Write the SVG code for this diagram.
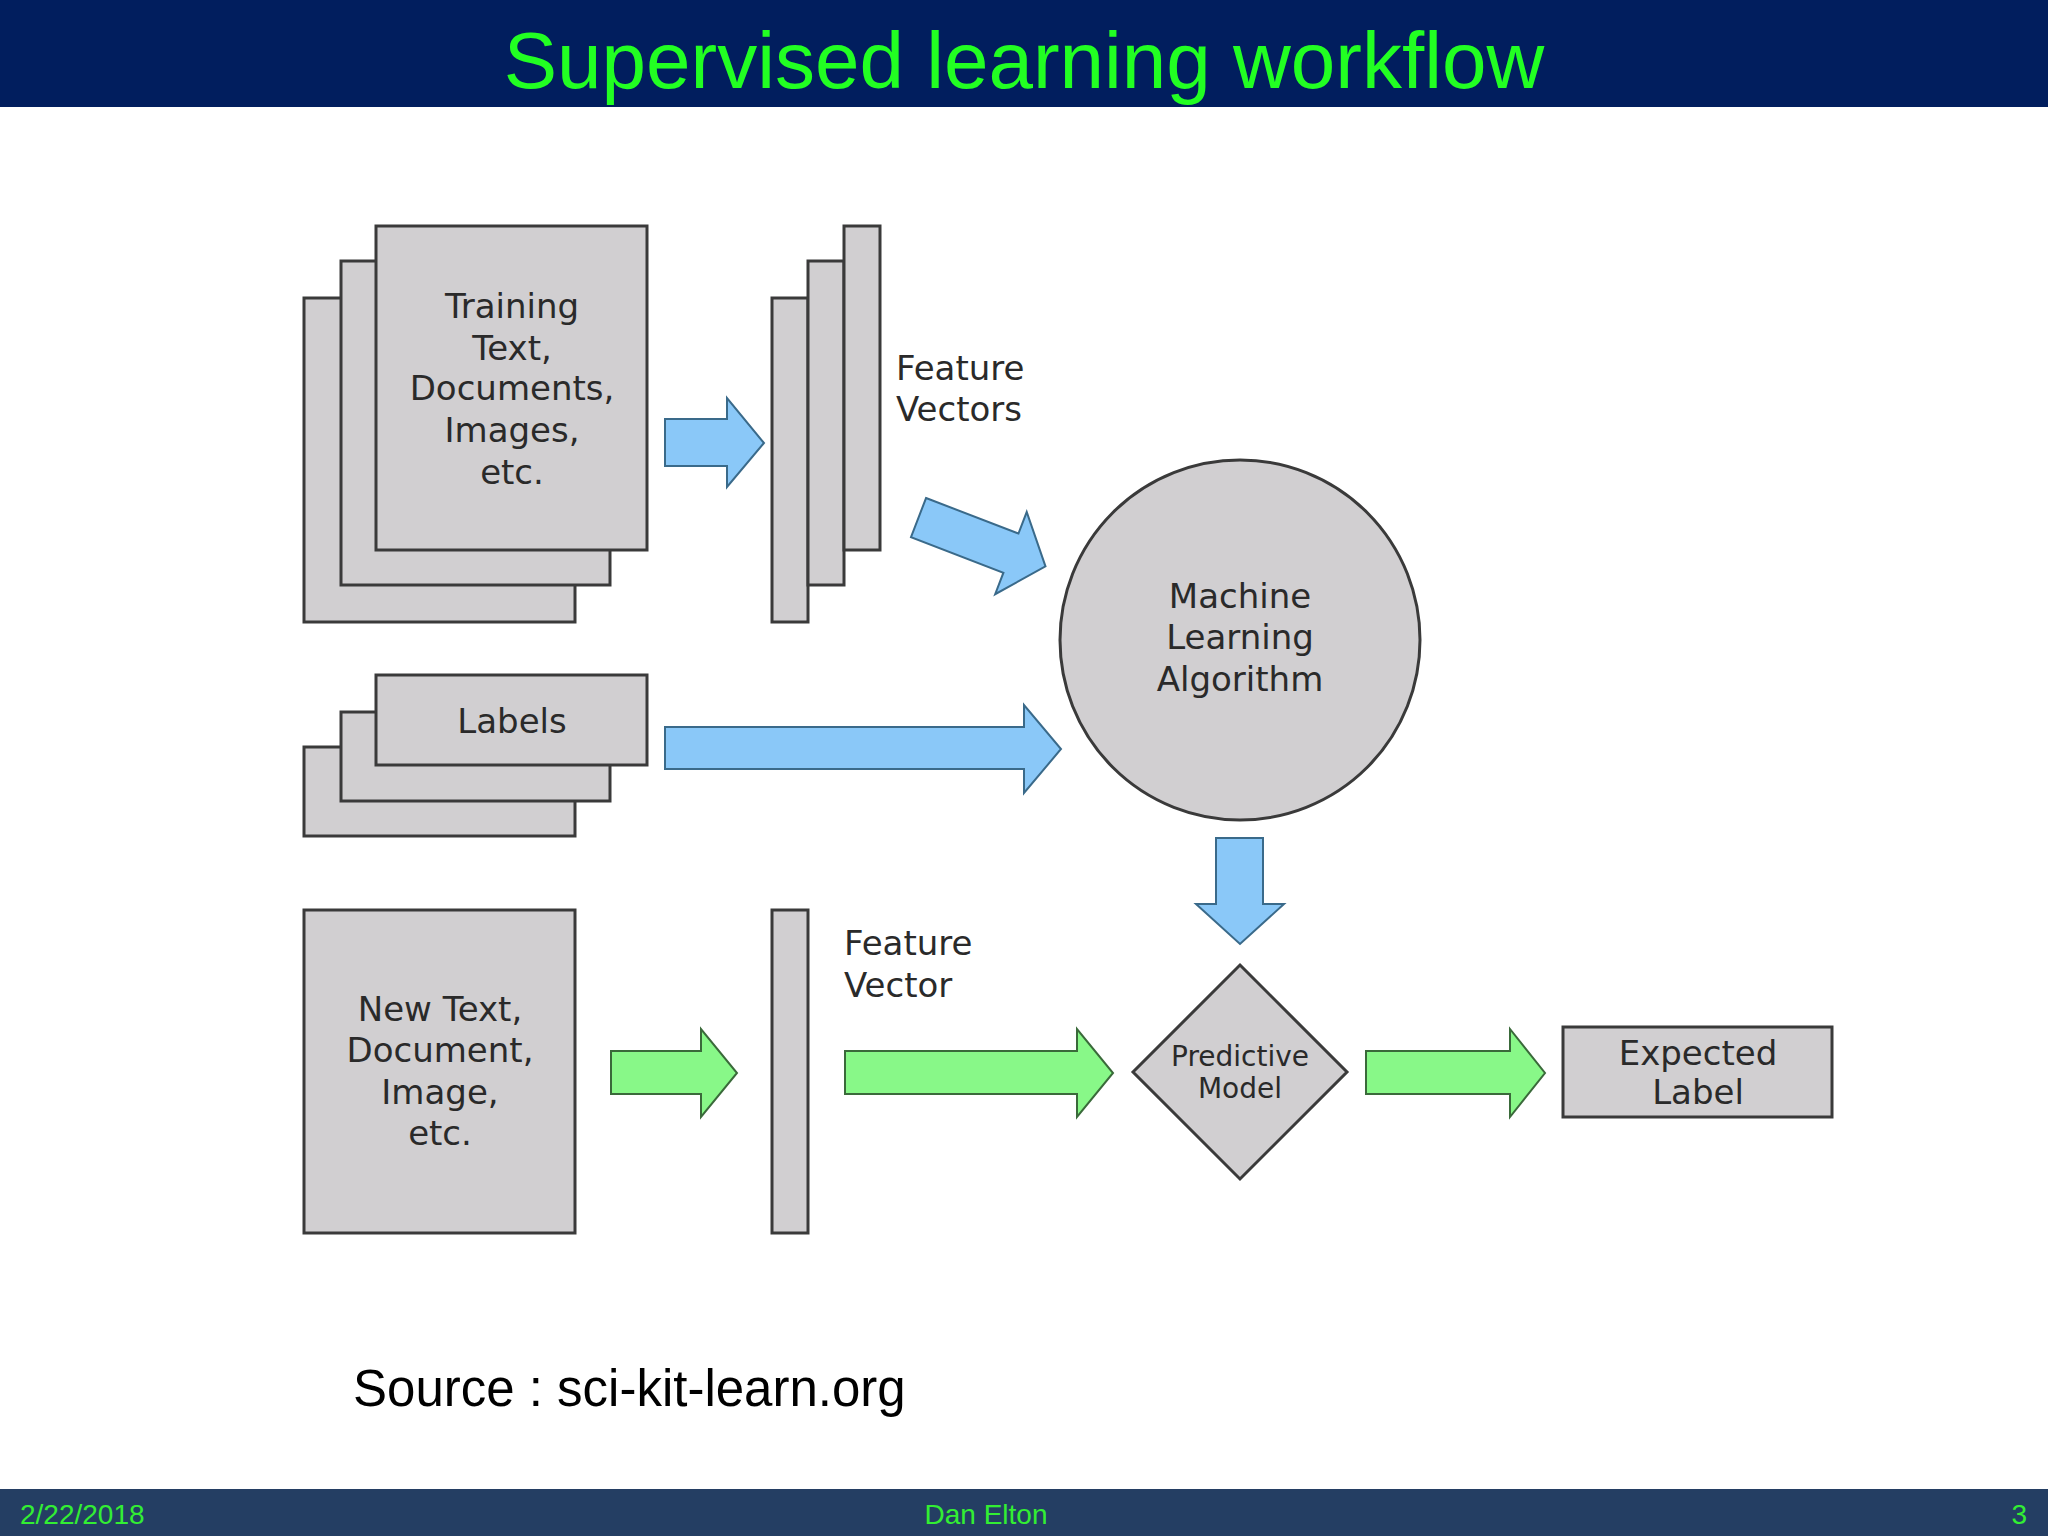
<svg xmlns="http://www.w3.org/2000/svg" width="2048" height="1536" viewBox="0 0 2048 1536">
<style>
.g{fill:#d1cfd1;stroke:#3a3a3a;stroke-width:3}
.t{font-family:"DejaVu Sans",sans-serif;font-size:34px;fill:#2a2a2a;text-anchor:middle}
.ts{font-family:"DejaVu Sans",sans-serif;font-size:28px;fill:#2a2a2a;text-anchor:middle}
.tl{font-family:"DejaVu Sans",sans-serif;font-size:34px;fill:#2a2a2a}
.b{fill:#8ac8f8;stroke:#3a6a8a;stroke-width:2}
.gr{fill:#88f888;stroke:#3a6a3a;stroke-width:2}
.f{font-family:"Liberation Sans",Arial,sans-serif;font-size:28px;fill:#33ee33}
</style>
<rect width="2048" height="1536" fill="#fff"/>
<rect width="2048" height="107" fill="#011e5e"/>
<text x="1024" y="88" font-family="Liberation Sans,Arial,sans-serif" font-size="80" fill="#22ff22" text-anchor="middle">Supervised learning workflow</text>
<rect y="1489" width="2048" height="47" fill="#243e63"/>
<text class="f" x="20" y="1524">2/22/2018</text>
<text class="f" x="986" y="1524" text-anchor="middle">Dan Elton</text>
<text class="f" x="2027" y="1524" text-anchor="end">3</text>
<g id="training">
<rect class="g" x="304" y="298" width="271" height="324"/>
<rect class="g" x="341" y="261" width="269" height="324"/>
<rect class="g" x="376" y="226" width="271" height="324"/>
<text class="t" x="512" y="318">Training</text><text class="t" x="512" y="360">Text,</text><text class="t" x="512" y="400">Documents,</text><text class="t" x="512" y="442">Images,</text><text class="t" x="512" y="484">etc.</text>
</g>
<g id="featurevectors">
<rect class="g" x="772" y="298" width="36" height="324"/>
<rect class="g" x="808" y="261" width="36" height="324"/>
<rect class="g" x="844" y="226" width="36" height="324"/>
<text class="tl" x="896" y="380">Feature</text><text class="tl" x="896" y="421">Vectors</text>
</g>
<g id="labels">
<rect class="g" x="304" y="747" width="271" height="89"/>
<rect class="g" x="341" y="712" width="269" height="89"/>
<rect class="g" x="376" y="675" width="271" height="90"/>
<text class="t" x="512" y="733">Labels</text>
</g>
<g id="algorithm">
<circle class="g" cx="1240" cy="640" r="180"/>
<text class="t" x="1240" y="608">Machine</text><text class="t" x="1240" y="649">Learning</text><text class="t" x="1240" y="691">Algorithm</text>
</g>
<g id="newtext">
<rect class="g" x="304" y="910" width="271" height="323"/>
<text class="t" x="440" y="1021">New Text,</text><text class="t" x="440" y="1062">Document,</text><text class="t" x="440" y="1104">Image,</text><text class="t" x="440" y="1145">etc.</text>
</g>
<g id="featurevector">
<rect class="g" x="772" y="910" width="36" height="323"/>
<text class="tl" x="844" y="955">Feature</text><text class="tl" x="844" y="997">Vector</text>
</g>
<g id="model">
<polygon class="g" points="1240,965 1347,1072 1240,1179 1133,1072"/>
<text class="ts" x="1240" y="1066">Predictive</text><text class="ts" x="1240" y="1098">Model</text>
</g>
<g id="expected">
<rect class="g" x="1563" y="1027" width="269" height="90"/>
<text class="t" x="1698" y="1065">Expected</text><text class="t" x="1698" y="1104">Label</text>
</g>
<g id="connectors">
<polygon class="b" points="665,419 727,419 727,398 764,443 727,487 727,466 665,466"/>
<polygon class="b" transform="translate(982,542) rotate(21)" points="-68,-21 31,-21 31,-44 68,0 31,44 31,21 -68,21"/>
<polygon class="b" points="665,727 1024,727 1024,705 1061,749 1024,793 1024,769 665,769"/>
<polygon class="b" points="1216,838 1263,838 1263,904 1284,904 1240,944 1196,904 1216,904"/>
<polygon class="gr" points="611,1051 701,1051 701,1029 737,1073 701,1117 701,1094 611,1094"/>
<polygon class="gr" points="845,1051 1077,1051 1077,1029 1113,1073 1077,1117 1077,1094 845,1094"/>
<polygon class="gr" points="1366,1051 1510,1051 1510,1029 1545,1073 1510,1117 1510,1094 1366,1094"/>
</g>
<text x="353" y="1406" font-family="Liberation Sans,Arial,sans-serif" font-size="51" fill="#000">Source : sci-kit-learn.org</text>
</svg>
